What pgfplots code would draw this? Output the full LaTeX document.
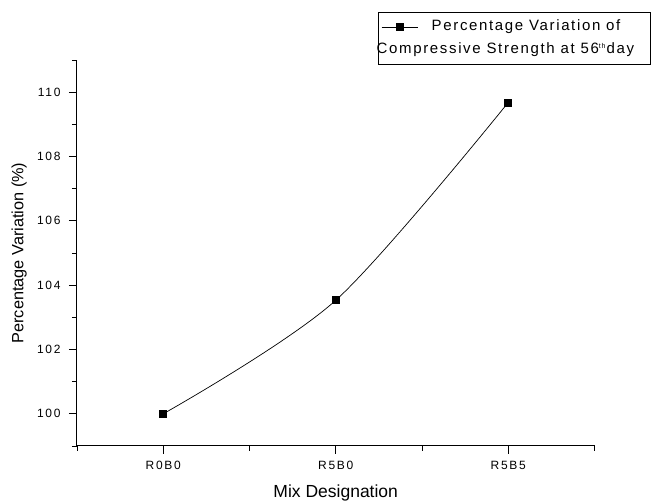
\documentclass[border=0pt]{standalone}
\usepackage{fontspec}
\setmainfont{Liberation Sans}
\usepackage{pgfplots}
\pgfplotsset{compat=1.18}
\begin{document}
\begin{tikzpicture}
\path[use as bounding box] (-77pt,-56pt) rectangle (579pt,446pt);
\begin{axis}[
  scale only axis, width=517.5pt, height=386pt,
  xmin=-0.5, xmax=2.5, ymin=99, ymax=111,
  axis lines*=left,
  axis line style={line width=1pt, black},
  xtick={0,1,2}, xticklabels={R0B0,R5B0,R5B5},
  minor xtick={-0.5,0.5,1.5,2.5},
  ytick={100,102,104,106,108,110},
  minor ytick={99,101,103,105,107,109,111},
  tick align=outside,
  major tick length=8pt, minor tick length=5pt,
  tick style={line width=0.9pt, black},
  ticklabel style={font=\fontsize{12}{14}\selectfont\addfontfeature{LetterSpace=14}},
  xticklabel style={yshift=-4pt},
  yticklabel style={xshift=-5pt},
  /pgf/number format/assume math mode=true,
  xlabel={Mix Designation},
  ylabel={Percentage Variation (\%)},
  xlabel style={font=\fontsize{17.5}{20}\selectfont, at={(axis description cs:0.5,-0.1218)}, anchor=center},
  ylabel style={font=\fontsize{16.3}{19}\selectfont, at={(axis description cs:-0.112,0.5)}, anchor=center},
  legend style={at={(axis description cs:0.5816,1.1244)}, anchor=north west,
    draw=black, line width=0.8pt, inner xsep=3pt, inner ysep=5pt, row sep=4.5pt,
    font=\fontsize{15}{18}\selectfont\addfontfeature{LetterSpace=11},
    nodes={inner sep=2pt, text height=11pt, text depth=4pt}},
  legend cell align=left,
  legend image code/.code={%
    \draw[#1, mark repeat=2, mark phase=2] plot coordinates {(0pt,0pt) (18pt,0pt) (36pt,0pt)};
    \path[draw=none, fill=none] (0pt,0pt) rectangle (48pt,0pt);},
]
\addplot[black, line width=0.7pt, smooth, mark=square*, mark size=3.5pt, mark options={solid}]
  coordinates {(0,100.0) (1,103.53) (2,109.68)};
\addlegendentry{Percentage Variation of}
\addlegendimage{empty legend}
\addlegendentry{\hspace*{-55pt}\makebox[269pt][l]{Compressive Strength at 56{\fontsize{7}{7}\selectfont\raisebox{5pt}{th}}\hspace{1pt}day}}
\end{axis}
\end{tikzpicture}
\end{document}
